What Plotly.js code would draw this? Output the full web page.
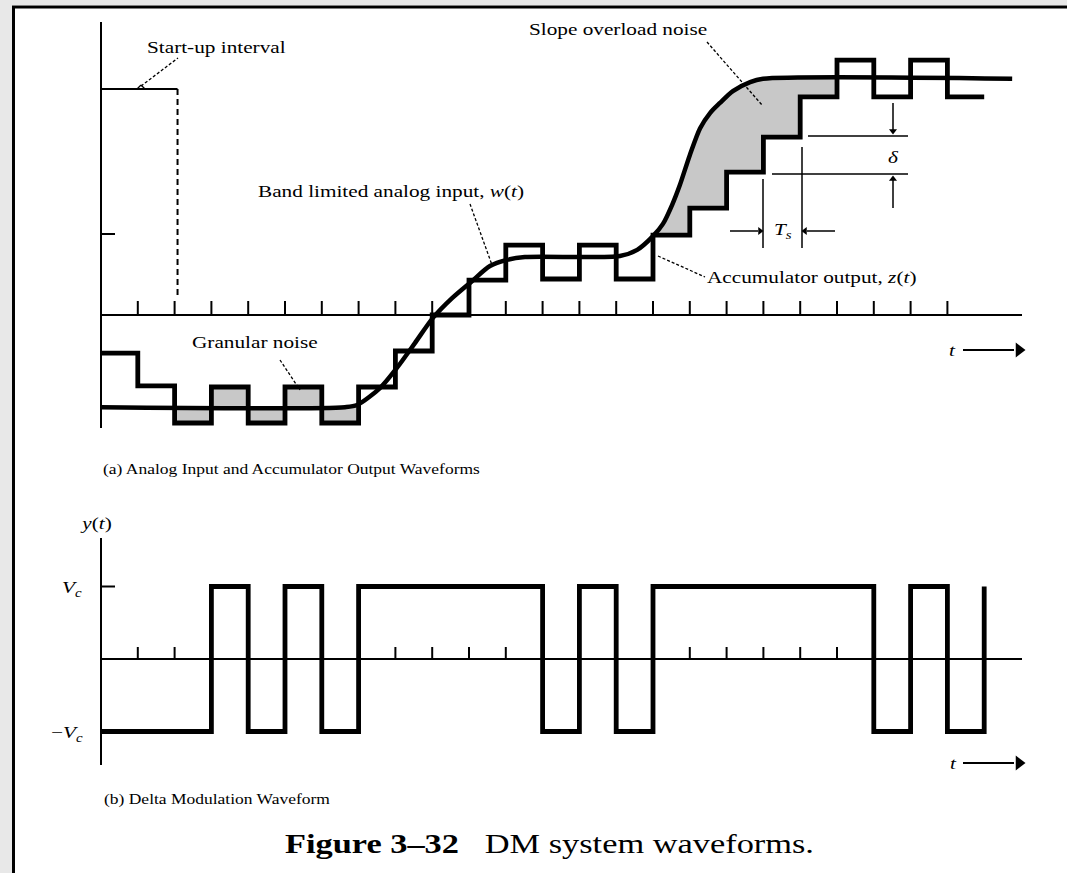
<!DOCTYPE html>
<html><head><meta charset="utf-8">
<script src="https://cdn.plot.ly/plotly-3.0.1.min.js"></script>
<style>
html,body{margin:0;padding:0;background:#fff;}
#chart{width:1067px;height:873px;}
.annotation-text{transform-box:fill-box;transform-origin:center;transform:scaleX(1.25);}
</style>
</head><body><div id="chart"></div>
<script>
// ---------------- data ----------------
// sample instants (in units of Ts)
const sampleTimes = [0,1,2,3,4,5,6,7,8,9,10,11,12,13,14,15,16,17,18,19,20,21,22,23,24];
// accumulator output z(t) on each sampling interval (in units of the step delta)
const accumLevels = [-1.06,-1.97,-3.0,-2.0,-3.0,-2.0,-3.0,-2.0,-1.0,0.0,0.97,1.94,1.0,1.94,1.0,2.22,2.97,3.97,4.94,6.06,7.08,6.06,7.08,6.06];
// band limited analog input w(t)
const analogT = [0,6.63,6.96,7.58,8.04,8.53,9.02,9.54,10.08,10.57,11.03,11.52,14.10,14.57,15.0,15.27,15.52,15.73,16.0,16.28,16.55,16.82,17.17,17.64,17.99,24.76];
const analogW = [-2.56,-2.56,-2.50,-2.03,-1.47,-0.78,-0.08,0.47,0.94,1.36,1.53,1.61,1.64,1.81,2.19,2.53,3.06,3.61,4.44,5.19,5.61,5.89,6.22,6.47,6.56,6.56];
// delta modulation output y(t) (in units of Vc), one value per interval plus the final edge
const dmLevels = [-1,-1,-1,1,-1,1,-1,1,1,1,1,1,-1,1,-1,1,1,1,1,1,1,-1,1,-1,1];
// tick marks on the time axes
const tickTimes = [1,2,3,4,5,6,7,8,9,10,11,12,13,14,15,16,17,18,19,20,21,22,23];
// shaded regions
const granularIntervals = [2,3,4,5,6];
const overloadFrom = 15, overloadTo = 20;
// start-up interval marker
const startupLevel = 6.28, startupEnd = 2.08;
const yTickLevel = 2.25;
const dmPeak = 1;

// ---------------- geometry ----------------
const W=1067,H=873;
const X0=101, XS=36.8;      // px of t=0, px per Ts
const YA0=315, YAS=36;      // top panel
const YB0=659, YBS=72.5;    // bottom panel
const px2x = p => (p-X0)/XS;
const py2a = p => (YA0-p)/YAS;
const py2b = p => (YB0-p)/YBS;
const PX = p => p/W, PY = p => 1-p/H;

function interpW(t){
  for(let i=0;i<analogT.length-1;i++){
    if(t>=analogT[i] && t<=analogT[i+1]){
      const f=(t-analogT[i])/(analogT[i+1]-analogT[i]);
      return analogW[i]+f*(analogW[i+1]-analogW[i]);
    }
  }
  return analogW[analogW.length-1];
}

const BLACK='#000';
const GRAY='#c8c8c8';
const traces=[];

// granular noise fills
const wFlat = analogW[0];
granularIntervals.forEach(k=>{
  const lv=accumLevels[k];
  traces.push({x:[k,k+1,k+1,k,k],y:[lv,lv,wFlat,wFlat,lv],mode:'lines',fill:'toself',
    fillcolor:GRAY,line:{width:0},hoverinfo:'skip',showlegend:false});
});
// slope overload fill
{
  const px=[overloadFrom], py=[interpW(overloadFrom)];
  analogT.forEach((t,i)=>{ if(t>overloadFrom && t<overloadTo){px.push(t);py.push(analogW[i]);} });
  px.push(overloadTo); py.push(interpW(overloadTo));
  for(let k=overloadTo-1;k>=overloadFrom;k--){
    px.push(k+1,k); py.push(accumLevels[k],accumLevels[k]);
  }
  traces.push({x:px,y:py,mode:'lines',fill:'toself',fillcolor:GRAY,line:{width:0},hoverinfo:'skip',showlegend:false});
}
// accumulator staircase
traces.push({x:sampleTimes,y:accumLevels.concat([accumLevels[accumLevels.length-1]]),mode:'lines',
  line:{color:BLACK,width:4.8,shape:'hv'},hoverinfo:'skip',showlegend:false});
// analog input
traces.push({x:analogT,y:analogW,mode:'lines',line:{color:BLACK,width:4.5,shape:'spline',smoothing:0.8},
  hoverinfo:'skip',showlegend:false});
// top ticks
{
  const tx=[],ty=[];
  tickTimes.forEach(k=>{tx.push(k,k,null);ty.push(0,14/YAS,null);});
  tx.push(0,14/XS,null); ty.push(yTickLevel,yTickLevel,null);
  traces.push({x:tx,y:ty,mode:'lines',line:{color:BLACK,width:2},hoverinfo:'skip',showlegend:false});
}
// start-up interval
traces.push({x:[0,startupEnd],y:[startupLevel,startupLevel],mode:'lines',line:{color:BLACK,width:2},hoverinfo:'skip',showlegend:false});
traces.push({x:[startupEnd,startupEnd],y:[startupLevel,py2a(298)],mode:'lines',line:{color:BLACK,width:2,dash:'6px,4px'},hoverinfo:'skip',showlegend:false});
// bottom DM waveform
traces.push({x:sampleTimes,y:dmLevels,yaxis:'y2',mode:'lines',line:{color:BLACK,width:4.8,shape:'hv'},hoverinfo:'skip',showlegend:false});
{
  const tx=[],ty=[];
  tickTimes.forEach(k=>{tx.push(k,k,null);ty.push(0,12/YBS,null);});
  tx.push(0,14/XS,null); ty.push(dmPeak,dmPeak,null);
  traces.push({x:tx,y:ty,yaxis:'y2',mode:'lines',line:{color:BLACK,width:2},hoverinfo:'skip',showlegend:false});
}
// arrowheads (decoration)
function heads(list,axis,size){
  const conv = axis==='y2'?py2b:py2a;
  traces.push({x:list.map(a=>px2x(a[0])),y:list.map(a=>conv(a[1])),yaxis:axis,mode:'markers',
    marker:{symbol:list.map(a=>a[2]),size:size,color:BLACK,line:{width:0}},hoverinfo:'skip',showlegend:false});
}
heads([[893,131,'triangle-down'],[893,179,'triangle-up'],[760,231,'triangle-right'],[805,231,'triangle-left']],'y',7);
heads([[1019,350,'triangle-right']],'y',13);
heads([[1019,763,'triangle-right']],'y2',13);

// ---------------- shapes ----------------
const shapes=[];
function seg(x0,y0,x1,y1,w,dash){
  shapes.push({type:'line',xref:'paper',yref:'paper',x0:PX(x0),y0:PY(y0),x1:PX(x1),y1:PY(y1),
    line:{color:BLACK,width:w||1.5,dash:dash||'solid'}});
}
// frame
shapes.push({type:'rect',xref:'paper',yref:'paper',x0:0,x1:PX(12),y0:0,y1:1,fillcolor:'#e8e8e8',line:{width:0},layer:'below'});
shapes.push({type:'rect',xref:'paper',yref:'paper',x0:0,x1:1,y0:PY(5),y1:1,fillcolor:'#e8e8e8',line:{width:0},layer:'below'});
seg(13.5,6,13.5,873,3);
seg(12,7,1067,7,3);
// axes
seg(X0,22,X0,428,2);
seg(X0,YA0,1022,YA0,2);
seg(X0,538,X0,765,2);
seg(X0,YB0,1022,YB0,2);
// leaders
const LD='3px,2px';
seg(141,86,178,58,1.3,LD);
seg(137,89,141,85,1.3); seg(141,85,145,89,1.3);
seg(470,204,492,265,1.3,LD);
seg(707,42,762,105,1.3,LD);
seg(658,256,705,277,1.3,LD);
seg(280,360,300,390,1.3,LD);
// delta and Ts dimension lines
seg(808,136,908,136,1.5);
seg(772,174,908,174,1.5);
seg(763,179,763,248,1.5);
seg(802,147,802,248,1.5);
seg(893,103,893,130,1.5);
seg(893,180,893,208,1.5);
seg(730,231,758,231,1.5);
seg(807,231,835,231,1.5);
// t arrows
seg(963,350,1014,350,2);
seg(963,763,1014,763,2);

// ---------------- annotations ----------------
const F='Liberation Serif, Times New Roman, serif';
const ann=[];
function txt(s,x,y,size){
  ann.push({text:s,xref:'paper',yref:'paper',x:PX(x),y:PY(y),xanchor:'center',yanchor:'middle',
    showarrow:false,font:{family:F,size:size||17,color:BLACK}});
}
txt('Start-up interval',216,47);
txt('Band limited analog input, <i>w</i>(<i>t</i>)',391,191);
txt('Slope overload noise',618,30);
txt('Accumulator output, <i>z</i>(<i>t</i>)',811,277);
txt('Granular noise',255,343);
txt('<i>δ</i>',893,157);
txt('<i>T</i><sub><i>s</i></sub>',783,231);
txt('<i>t</i>',952,350);
txt('<i>t</i>',953,763);
txt('<i>y</i>(<i>t</i>)',96,523);
txt('<i>V</i><sub><i>c</i></sub>',72,588);
txt('−<i>V</i><sub><i>c</i></sub>',67,733);
txt('(a) Analog Input and Accumulator Output Waveforms',291,470,14);
txt('(b) Delta Modulation Waveform',217,800,14);
txt('<b>Figure 3–32</b>\u00a0\u00a0\u00a0DM system waveforms.',550,843,27.5);

const layout={
  width:W,height:H,margin:{l:0,r:0,t:0,b:0},
  paper_bgcolor:'#fff',plot_bgcolor:'#fff',showlegend:false,
  xaxis:{visible:false,range:[px2x(0),px2x(W)],fixedrange:true},
  yaxis:{visible:false,range:[py2a(H),py2a(0)],fixedrange:true},
  yaxis2:{visible:false,range:[py2b(H),py2b(0)],overlaying:'y',fixedrange:true},
  shapes:shapes,annotations:ann
};
Plotly.newPlot('chart',traces,layout,{staticPlot:true,displayModeBar:false});
</script>
</body></html>
